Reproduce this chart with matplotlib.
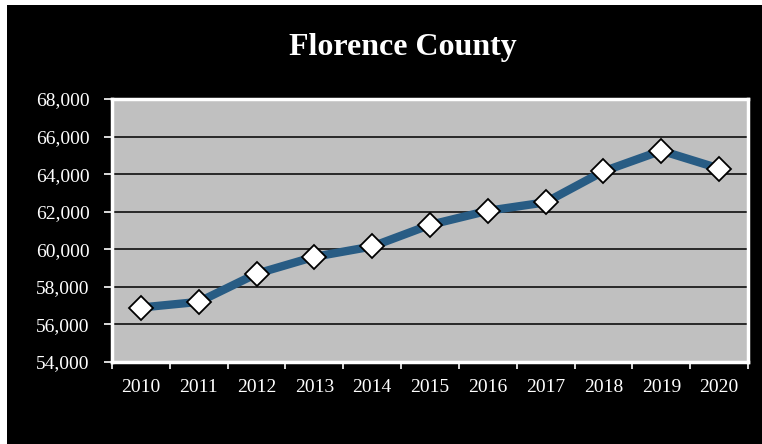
import matplotlib
matplotlib.use("Agg")
import matplotlib.pyplot as plt
from matplotlib.patches import Rectangle
from matplotlib.ticker import FuncFormatter, FixedLocator

years = ["2010", "2011", "2012", "2013", "2014", "2015", "2016", "2017", "2018", "2019", "2020"]
population = [56900, 57200, 58700, 59600, 60150, 61300, 62050, 62500, 64150, 65250, 64300]
title = "Florence County"
y_ticks = [54000, 56000, 58000, 60000, 62000, 64000, 66000, 68000]

W, H = 762, 444
fig = plt.figure(figsize=(W / 100, H / 100), dpi=100, facecolor="white")
fig.patches.append(Rectangle((7 / W, 0), 1 - 7 / W, 1 - 5 / H, transform=fig.transFigure,
                             facecolor="black", edgecolor="none", zorder=-10))

ax = fig.add_axes([112 / W, 1 - 362 / H, (748 - 112) / W, (362 - 99) / H])
ax.set_zorder(1)
ax.set_facecolor("#C0C0C0")

x = list(range(len(years)))
ax.plot(x, population, color="#285C84", lw=6, marker="D", markersize=12.5,
        markerfacecolor="white", markeredgecolor="black", markeredgewidth=1.3,
        solid_joinstyle="round", zorder=3)

ax.set_xlim(-0.5, len(years) - 0.5)
ax.set_ylim(54000, 68000)
ax.set_yticks(y_ticks)
ax.yaxis.set_major_formatter(FuncFormatter(lambda v, p: f"{int(v):,}"))
ax.grid(axis="y", color="black", lw=1.1, zorder=1)
ax.set_axisbelow(True)

ax.set_xticks(x)
ax.set_xticklabels(years)
ax.xaxis.set_minor_locator(FixedLocator([i - 0.5 for i in range(len(years) + 1)]))
ax.tick_params(axis="x", which="major", length=0, pad=12)
ax.tick_params(axis="x", which="minor", length=5, width=1.2, color="white", direction="out")
ax.tick_params(axis="y", length=6, width=1.2, color="white", direction="out", pad=10)

for lbl in ax.get_xticklabels() + ax.get_yticklabels():
    lbl.set_fontfamily("Liberation Serif")
    lbl.set_fontsize(14)
    lbl.set_color("white")

for s in ax.spines.values():
    s.set_color("white")
    s.set_linewidth(2.5)

fig.text(403 / W, 1 - 47 / H, title, ha="center", va="center", color="white",
         fontfamily="Liberation Serif", fontweight="bold", fontsize=23)

fig.savefig("out.png", dpi=100, facecolor=fig.get_facecolor())
